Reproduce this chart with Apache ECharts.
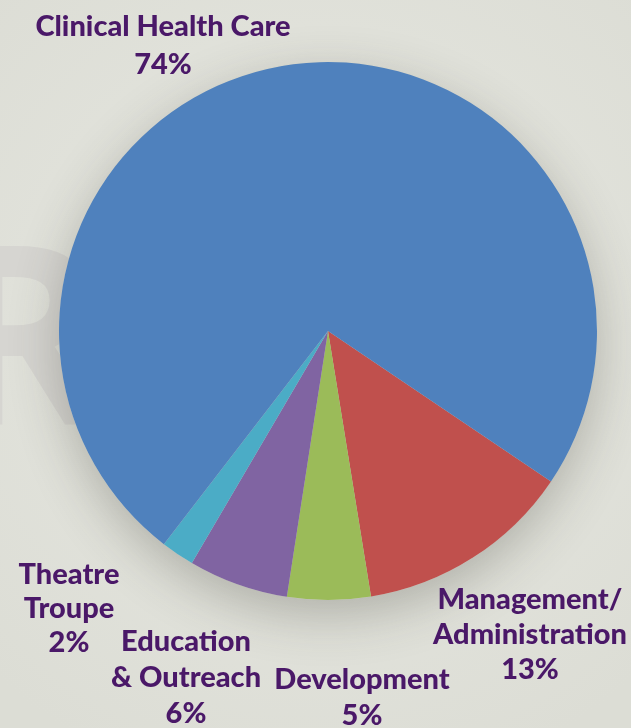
<!DOCTYPE html>
<html><head><meta charset="utf-8">
<script src="https://cdn.jsdelivr.net/npm/echarts@6/dist/echarts.min.js"></script>
<style>html,body{margin:0;padding:0;}#c{width:631px;height:728px;}</style>
</head><body><div id="c"></div>
<script>
const categories = ['Management/\nAdministration', 'Development', 'Education\n& Outreach', 'Theatre\nTroupe', 'Clinical Health Care'];
const values = [13, 5, 6, 2, 74];
const colors = ['#C0504D', '#9BBB59', '#8064A2', '#4BACC6', '#4F81BD'];

const labelPos = [
  {x: 530, y: 582, lh: 35},
  {x: 362, y: 662, lh: 36},
  {x: 186, y: 624, lh: 36},
  {x: 69, y: 558, lh: 34},
  {x: 163, y: 8, lh: 38}
];

const chart = echarts.init(document.getElementById('c'));
chart.setOption({
  backgroundColor: {
    type: 'radial', x: 0.5, y: 0.45, r: 0.75,
    colorStops: [{offset: 0, color: '#e7e8e2'}, {offset: 1, color: '#dcddd5'}]
  },
  graphic: [{
    type: 'text', left: -58, top: 228, z: 0,
    style: {text: 'R', fontSize: 250, fontWeight: 'bold', fontFamily: 'Open Sans', fill: '#d6d5d1'}
  }],
  series: [{
    type: 'pie', radius: 269, center: [328, 331], silent: true, z: 1,
    data: [{value: 1, itemStyle: {color: '#cfd0c8', shadowBlur: 50, shadowColor: 'rgba(60,60,50,0.3)', shadowOffsetY: 15}}],
    label: {show: false}, labelLine: {show: false}
  }, {
    type: 'pie', radius: 269, center: [328, 331], startAngle: -34, clockwise: true, z: 2,
    avoidLabelOverlap: false,
    data: categories.map((c, i) => ({name: c, value: values[i], itemStyle: {color: colors[i]},
      label: {lineHeight: labelPos[i].lh}})),
    label: {
      show: true, position: 'outside', alignTo: 'none', overflow: 'none', width: 400,
      formatter: p => p.name + '\n' + p.value + '%',
      color: '#4A1868', fontFamily: 'Lato', fontWeight: 900, fontSize: 29,
      align: 'center'
    },
    labelLine: {show: false},
    labelLayout: p => ({x: labelPos[p.dataIndex].x, y: labelPos[p.dataIndex].y, align: 'center', verticalAlign: 'top'})
  }]
});
</script></body></html>
